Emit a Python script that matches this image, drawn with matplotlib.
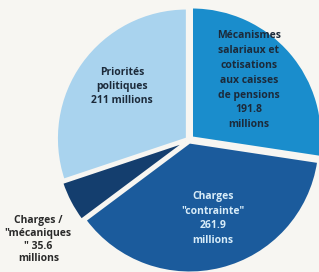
import matplotlib.pyplot as plt
import numpy as np

# data
labels = ['Mécanismes\nsalariaux et\ncotisations\naux caisses\nde pensions\n191.8\nmillions',
          'Charges\n"contrainte"\n261.9\nmillions',
          'Charges /\n"mécaniques\n" 35.6\nmillions',
          'Priorités\npolitiques\n211 millions']
values = [191.8, 261.9, 35.6, 211]
colors = ['#1a8dcc', '#1b5b9c', '#143e6e', '#a9d3ee']
text_colors = ['#1c2a3a', '#d8ecf8', '#2a2a2a', '#1c2a3a']
# label position: (distance, angle in degrees), line spacing
label_pos = [(0.65, 45), (0.63, -73), (1.39, -146.5), (0.66, 141.5)]
label_spacing = [1.48, 1.45, 1.2, 1.4]

plt.rcParams['font.family'] = ['Open Sans', 'DejaVu Sans']

fig = plt.figure(figsize=(3.19, 2.72), dpi=100)
fig.patch.set_facecolor('#f7f6f2')
ax = fig.add_axes([0, 0, 1, 1])
ax.set_facecolor('#f7f6f2')

R = 130.0
cx, cy = 189.0, 140.0
wedges, _ = ax.pie(values, colors=colors, startangle=90, counterclock=False,
                   explode=[0.03, 0.02, 0.03, 0.02],
                   wedgeprops=dict(edgecolor='#f7f6f2', linewidth=1.5))

for lab, tc, (r, a), ls in zip(labels, text_colors, label_pos, label_spacing):
    ax.text(r * np.cos(np.radians(a)), r * np.sin(np.radians(a)), lab,
            ha='center', va='center', fontsize=7.5, fontweight='bold',
            color=tc, linespacing=ls)

ax.set_xlim(-cx / R, (319 - cx) / R)
ax.set_ylim(-(272 - cy) / R, cy / R)
ax.set_aspect('auto')
ax.axis('off')

fig.savefig('out.png', dpi=100, facecolor=fig.get_facecolor())
